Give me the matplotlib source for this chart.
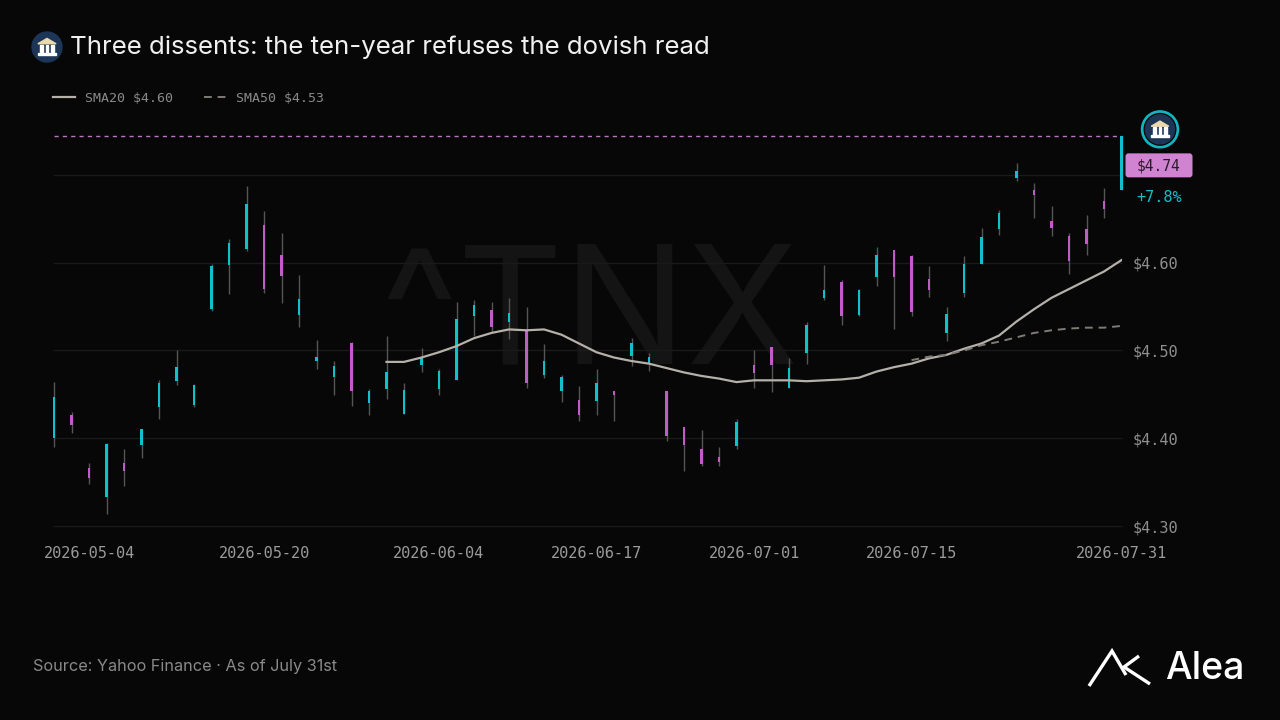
import matplotlib.pyplot as plt
import numpy as np
import pandas as pd
from matplotlib.patches import Circle, Polygon, Rectangle, FancyBboxPatch
from matplotlib.transforms import ScaledTranslation

# trading days, US bond market holidays removed
holidays = ['2026-05-25', '2026-06-19', '2026-07-03']
dates = pd.bdate_range('2026-05-04', '2026-07-31', freq='C', holidays=holidays)
tick_dates = ['2026-05-04', '2026-05-20', '2026-06-04', '2026-06-17',
              '2026-07-01', '2026-07-15', '2026-07-31']

opens = [4.400, 4.427, 4.366, 4.333, 4.372, 4.392, 4.436, 4.465, 4.438, 4.547,
         4.597, 4.616, 4.643, 4.609, 4.541, 4.488, 4.470, 4.509, 4.440, 4.456,
         4.428, 4.484, 4.456, 4.466, 4.539, 4.546, 4.533, 4.523, 4.472, 4.454,
         4.444, 4.443, 4.454, 4.494, 4.486, 4.454, 4.413, 4.388, 4.379, 4.391,
         4.484, 4.504, 4.457, 4.497, 4.560, 4.578, 4.541, 4.584, 4.615, 4.608,
         4.582, 4.520, 4.565, 4.599, 4.639, 4.697, 4.683, 4.648, 4.631, 4.638,
         4.670, 4.683]
highs = [4.464, 4.430, 4.372, 4.395, 4.388, 4.411, 4.466, 4.500, 4.462, 4.599,
         4.627, 4.687, 4.659, 4.634, 4.586, 4.512, 4.488, 4.510, 4.456, 4.516,
         4.463, 4.503, 4.479, 4.555, 4.558, 4.555, 4.560, 4.550, 4.507, 4.472,
         4.459, 4.479, 4.454, 4.514, 4.497, 4.454, 4.413, 4.409, 4.390, 4.422,
         4.501, 4.504, 4.491, 4.533, 4.597, 4.580, 4.570, 4.618, 4.615, 4.609,
         4.596, 4.550, 4.608, 4.640, 4.660, 4.714, 4.691, 4.665, 4.634, 4.654,
         4.685, 4.744]
lows = [4.390, 4.406, 4.348, 4.314, 4.346, 4.378, 4.422, 4.461, 4.436, 4.545,
        4.564, 4.613, 4.566, 4.554, 4.527, 4.479, 4.449, 4.437, 4.426, 4.445,
        4.428, 4.475, 4.449, 4.466, 4.516, 4.521, 4.513, 4.457, 4.469, 4.441,
        4.420, 4.426, 4.420, 4.482, 4.477, 4.397, 4.363, 4.368, 4.368, 4.388,
        4.457, 4.453, 4.457, 4.485, 4.557, 4.529, 4.539, 4.573, 4.525, 4.539,
        4.561, 4.511, 4.561, 4.599, 4.632, 4.693, 4.651, 4.630, 4.587, 4.609,
        4.651, 4.683]
closes = [4.447, 4.415, 4.355, 4.393, 4.363, 4.410, 4.463, 4.481, 4.461, 4.596,
          4.623, 4.667, 4.570, 4.585, 4.559, 4.493, 4.482, 4.454, 4.454, 4.476,
          4.455, 4.491, 4.477, 4.536, 4.552, 4.527, 4.543, 4.463, 4.488, 4.470,
          4.427, 4.463, 4.449, 4.509, 4.493, 4.402, 4.392, 4.371, 4.373, 4.419,
          4.474, 4.484, 4.480, 4.529, 4.569, 4.539, 4.569, 4.609, 4.584, 4.544,
          4.569, 4.542, 4.599, 4.629, 4.657, 4.704, 4.677, 4.640, 4.602, 4.621,
          4.661, 4.744]

sma20_start = 19
sma20 = [4.487, 4.487, 4.492, 4.498, 4.505, 4.514, 4.520, 4.524, 4.523, 4.524,
         4.518, 4.508, 4.498, 4.492, 4.488, 4.485, 4.480, 4.475, 4.471, 4.468,
         4.464, 4.466, 4.466, 4.466, 4.465, 4.466, 4.467, 4.469, 4.476, 4.481,
         4.485, 4.491, 4.495, 4.502, 4.508, 4.517, 4.533, 4.547, 4.560, 4.570,
         4.580, 4.590, 4.603]
sma50_start = 49
sma50 = [4.489, 4.493, 4.495, 4.500, 4.506, 4.510, 4.515, 4.520, 4.523, 4.525,
         4.526, 4.526, 4.528]

BG = '#070707'
UP = '#10c0cb'
DOWN = '#bf5cc6'
WICK = '#555555'
GRID = '#1a1a1a'
MONO = 'DejaVu Sans Mono'
SANS = ['Inter', 'DejaVu Sans']

o = np.array(opens)
h = np.array(highs)
l = np.array(lows)
c = np.array(closes)
x = np.arange(len(dates))

fig = plt.figure(figsize=(12.8, 7.2), dpi=100, facecolor=BG)
ax = fig.add_axes([54 / 1280, 1 - 530.4 / 720, 1067.5 / 1280, (530.4 - 126.7) / 720])
ax.set_facecolor(BG)
ax.set_xlim(0, len(x) - 1)
ax.set_ylim(4.295, 4.755)

ax.text(0.502, 0.52, '^TNX', transform=ax.transAxes, ha='center', va='center',
        fontsize=118, color='#141414', family=SANS, zorder=0.5)

# candles
ax.vlines(x, l, h, colors=WICK, lw=1.0, zorder=2, clip_on=False)
body_h = np.maximum(np.abs(c - o), 0.002)
colors = [UP if cc >= oo else DOWN for oo, cc in zip(o, c)]
ax.bar(x, body_h, bottom=np.minimum(o, c), width=0.15, color=colors,
       zorder=3, clip_on=False)

l20, = ax.plot(x[sma20_start:], sma20, color='#b5b1aa', lw=1.6, zorder=4,
               label=f'SMA20 ${sma20[-1]:.2f}')
l50, = ax.plot(x[sma50_start:], sma50, color='#7f7c77', lw=1.4, zorder=4,
               ls=(0, (4, 3)), label=f'SMA50 ${sma50[-1]:.2f}')

ax.axhline(c[-1], color='#b877be', lw=1, ls=(0, (3, 3)), zorder=1.5)

# axes styling
yt = [4.3, 4.4, 4.5, 4.6, 4.7]
ax.set_yticks(yt)
ax.set_yticklabels([f'${v:.2f}' if v < 4.65 else '' for v in yt])
ax.yaxis.tick_right()
ax.grid(axis='y', color=GRID, lw=1)
ax.set_axisbelow(True)
ax.set_xticks([dates.get_loc(pd.Timestamp(d)) for d in tick_dates])
ax.set_xticklabels(tick_dates)
ax.tick_params(axis='y', length=0, pad=8, labelsize=11, labelcolor='#8f8f8f')
ax.tick_params(axis='x', length=0, pad=11.5, labelsize=11, labelcolor='#9b9b9b')
for lab in ax.get_xticklabels() + ax.get_yticklabels():
    lab.set_family(MONO)
first = ax.get_xticklabels()[0]
first.set_ha('left')
first.set_transform(first.get_transform() + ScaledTranslation(-0.10, 0, fig.dpi_scale_trans))
for s in ax.spines.values():
    s.set_visible(False)

leg = fig.legend(handles=[l20, l50], loc='upper left',
                 bbox_to_anchor=(53 / 1280, 1 - 92 / 720), ncol=2, frameon=False,
                 borderpad=0, borderaxespad=0, handlelength=1.7, handletextpad=0.7,
                 columnspacing=2.4, prop={'family': MONO, 'size': 9.5})
for t in leg.get_texts():
    t.set_color('#8a8a8a')

# overlay in pixel coordinates (y from top) for decorations
ov = fig.add_axes([0, 0, 1, 1], facecolor='none')
ov.set_xlim(0, 1280)
ov.set_ylim(720, 0)
ov.axis('off')


def bank_icon(cx, cy, r, ring=None):
    if ring:
        ov.add_patch(Circle((cx, cy), r + 4, color=ring, zorder=5))
        ov.add_patch(Circle((cx, cy), r + 1.3, color=BG, zorder=5))
    ov.add_patch(Circle((cx, cy), r, color='#1d3658', zorder=6))
    s = r / 14
    ov.add_patch(Polygon([(cx - 8.5 * s, cy - 3 * s), (cx + 8.5 * s, cy - 3 * s), (cx, cy - 8 * s)],
                         closed=True, color='#ecd9ad', zorder=7))
    for dx in (-5, 0, 5):
        ov.add_patch(Rectangle((cx + (dx - 1.3) * s, cy - 2 * s), 2.6 * s, 7 * s,
                               color='white', zorder=7))
    ov.add_patch(Rectangle((cx - 8.5 * s, cy + 5.5 * s), 17 * s, 2.2 * s, color='white', zorder=7))


bank_icon(47, 47, 15)
ov.text(70, 47, 'Three dissents: the ten-year refuses the dovish read', ha='left',
        va='center', fontsize=18.6, color='#f0f0f0', family=SANS)

# last price marker
dx_, dy_ = ax.transData.transform((x[-1], c[-1]))
px, py = dx_, 720 - dy_
bank_icon(px + 38.5, py - 7, 14.5, ring='#13b5c0')
ov.add_patch(FancyBboxPatch((px + 4, py + 17), 67, 24,
                            boxstyle='round,pad=0,rounding_size=3', fc='#cf83d0',
                            ec='none', zorder=5))
ov.text(px + 37.5, py + 29.5, f'${c[-1]:.2f}', ha='center', va='center', fontsize=10.5,
        color='#2a1b2b', family=MONO, zorder=6)
pct = (c[-1] / o[0] - 1) * 100
ov.text(px + 37.5, py + 61, f'{pct:+.1f}%', ha='center', va='center', fontsize=11,
        color=UP, family=MONO)

ov.text(33, 667, 'Source: Yahoo Finance \u00b7 As of July 31st', ha='left', va='center',
        fontsize=11.7, color='#8a8a8a', family=SANS)

# logo
ov.plot([1089, 1112, 1126], [686, 651, 675], color='white', lw=2.4,
        solid_joinstyle='miter', solid_capstyle='butt')
ov.plot([1139, 1124, 1150], [656, 667, 684], color='white', lw=2.4,
        solid_joinstyle='miter', solid_capstyle='butt')
ov.text(1165, 669, 'Alea', ha='left', va='center', fontsize=27, color='white',
        family=SANS, weight='medium')

fig.savefig('out.png', dpi=100, facecolor=BG)
